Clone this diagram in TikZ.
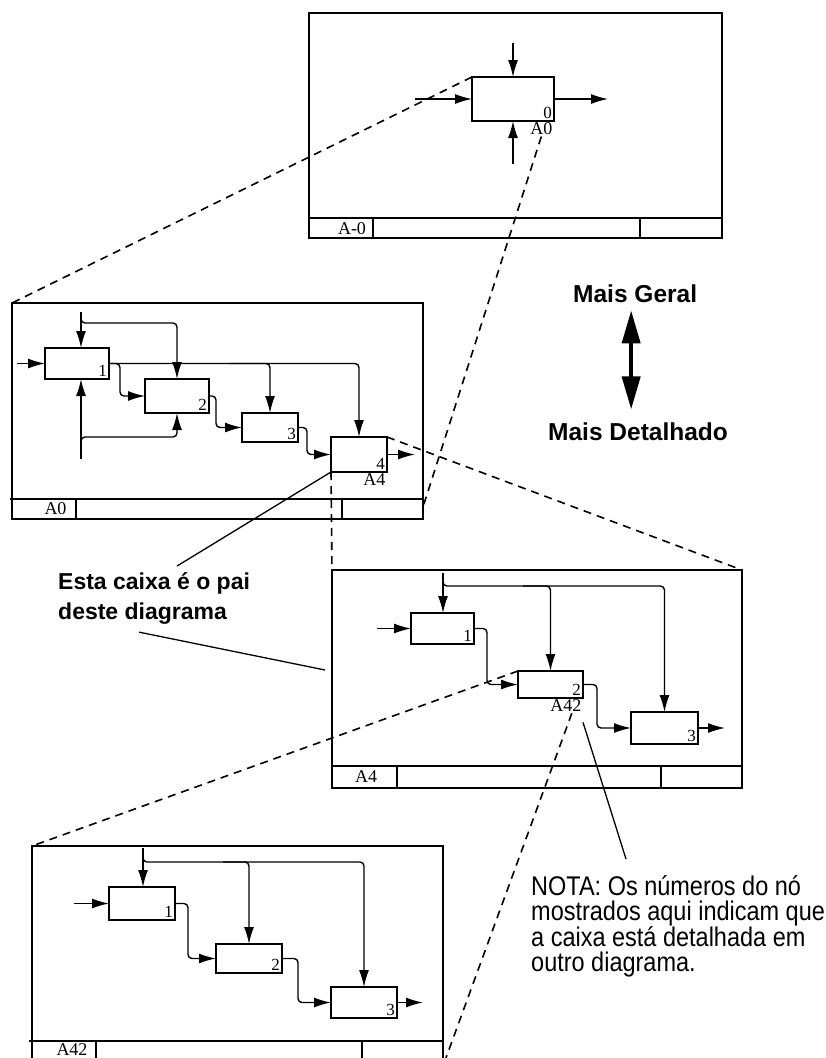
\documentclass[tikz,border=0pt]{standalone}
\usepackage{fontspec}
\setmainfont{Liberation Serif}
\setsansfont{Liberation Sans}
\newfontfamily\notafont[FakeStretch=0.87]{Liberation Sans}
\usetikzlibrary{arrows.meta, calc}

\begin{document}
\begin{tikzpicture}[x=1pt, y=-1pt, >={Latex[length=17pt, width=10pt]},
    quadro/.style={draw, line width=1.5pt, inner sep=0pt, outer sep=0pt},
    barra/.style={line width=1.5pt},
    caixa/.style={draw, line width=1.7pt, inner sep=0pt, outer sep=0pt},
    seta/.style={->, line width=1.4pt, rounded corners=4pt},
    tracejado/.style={line width=1.6pt, dash pattern=on 8pt off 6pt},
    linha/.style={line width=1.3pt},
    dupla/.style={{Triangle[length=33pt, width=18pt]}-{Triangle[length=33pt, width=18pt]}, line width=4pt},
    numero/.style={font=\fontsize{17}{17}\selectfont, inner sep=2pt, anchor=south east},
    rotulo/.style={font=\fontsize{18}{18}\selectfont, inner sep=1.5pt, anchor=north east},
    titulo/.style={font=\fontsize{18}{18}\selectfont, inner sep=0pt}]

\clip (0,0) rectangle (825,1058);

% === Diagrama A-0 ===
\node[quadro, minimum width=413pt, minimum height=225pt] (q0) at (515.5,125.5) {};
\draw[barra] (309,218) -- (722,218);
\draw[barra] (373,218) -- (373,238);
\draw[barra] (640,218) -- (640,238);
\node[titulo] (t0) at (352,229) {A-0};

\node[caixa, minimum width=82pt, minimum height=44pt] (c0) at (513,99) {};
\node[numero] at (c0.south east) {0};
\node[rotulo] (r0) at (c0.south east) {A0};

\draw[seta] (c0.north) ++(0,-34) -- (c0.north);
\draw[seta] (c0.south) ++(0,43) -- (c0.south);
\draw[seta] (c0.west) ++(-57,0) -- (c0.west);
\draw[seta] (c0.east) -- ++(54,0);

% === Diagrama A0 ===
\node[quadro, minimum width=411pt, minimum height=216pt] (q1) at (217.5,411) {};
\draw[barra] (10,499) -- (423,499);
\draw[barra] (76,499) -- (76,519);
\draw[barra] (342,499) -- (342,519);
\node[titulo] (t1) at (55.5,509) {A0};

\node[caixa, minimum width=64pt, minimum height=31pt] (b1) at (77,363.5) {};
\node[caixa, minimum width=64pt, minimum height=34pt] (b2) at (177,396) {};
\node[caixa, minimum width=56pt, minimum height=29pt] (b3) at (270,427.5) {};
\node[caixa, minimum width=56pt, minimum height=35pt] (b4) at (359,454.5) {};
\node[numero] at (b1.south east) {1};
\node[numero] at (b2.south east) {2};
\node[numero] at (b3.south east) {3};
\node[numero] at (b4.south east) {4};
\node[rotulo] (r4) at (b4.south east) {A4};

\coordinate (ctl1) at (81,312);
\coordinate (mec1) at (81,459);

% entrada, controles e mecanismos
\draw[seta] (b1.west) ++(-28,0) -- (b1.west);
\draw[seta] (ctl1) -- (ctl1 |- b1.north);
\draw[seta] (ctl1 |- 0,317) -- (ctl1 |- 0,323) -| (b2.north);
\draw[seta] (mec1) -- (mec1 |- b1.south);
\draw[seta] (mec1 |- 0,447) -- (mec1 |- 0,437) -| (b2.south);

% saidas
\draw[seta] (b1.east) -| (b4.north);
\draw[seta] ($(b1.east)+(120,0)$) -| (b3.north);
\draw[seta] (b1.east) -- ++(11,0) |- (b2.west);
\draw[seta] (b2.east) -- ++(7,0) |- (b3.west);
\draw[seta] (b3.east) -- ++(9,0) |- (b4.west);
\draw[seta] (b4.east) -- ++(28,0);

% === Diagrama A4 ===
\node[quadro, minimum width=410pt, minimum height=218pt] (q2) at (537,679) {};
\draw[barra] (332,766) -- (742,766);
\draw[barra] (397,766) -- (397,788);
\draw[barra] (661,766) -- (661,788);
\node[titulo] (t2) at (366,777) {A4};

\node[caixa, minimum width=63pt, minimum height=31pt] (d1) at (442.5,628.5) {};
\node[caixa, minimum width=65pt, minimum height=27pt] (d2) at (550.5,684.5) {};
\node[caixa, minimum width=67pt, minimum height=32pt] (d3) at (664.5,728) {};
\node[numero] at (d1.south east) {1};
\node[numero] at (d2.south east) {2};
\node[numero] at (d3.south east) {3};
\node[rotulo] (r42) at (d2.south east) {A42};

\coordinate (ctl2) at (443,573);

\draw[seta] (d1.west) ++(-34,0) -- (d1.west);
\draw[seta] (ctl2) -- (ctl2 |- d1.north);
\draw[seta] (ctl2 |- 0,580) -- (ctl2 |- 0,586) -| (d3.north);
\draw[seta] ($(ctl2 |- 0,586)+(80,0)$) -| (d2.north);
\draw[seta] (d1.east) -- ++(13,0) |- (d2.west);
\draw[seta] (d2.east) -- ++(14,0) |- (d3.west);
\draw[seta] (d3.east) -- ++(27,0);

% === Diagrama A42 ===
\node[quadro, minimum width=411pt, minimum height=220pt] (q3) at (237.5,956) {};
\draw[barra] (29,1041) -- (443,1041);
\draw[barra] (96,1041) -- (96,1066);
\draw[barra] (362,1041) -- (362,1066);
\node[titulo] (t3) at (72,1049.5) {A42};

\node[caixa, minimum width=66pt, minimum height=33pt] (e1) at (142,903.5) {};
\node[caixa, minimum width=66pt, minimum height=29pt] (e2) at (249,958.5) {};
\node[caixa, minimum width=66pt, minimum height=31pt] (e3) at (364,1002.5) {};
\node[numero] at (e1.south east) {1};
\node[numero] at (e2.south east) {2};
\node[numero] at (e3.south east) {3};

\coordinate (ctl3) at (143,848);

\draw[seta] (e1.west) ++(-35,0) -- (e1.west);
\draw[seta] (ctl3) -- (ctl3 |- e1.north);
\draw[seta] (ctl3 |- 0,856) -- (ctl3 |- 0,862) -| (e3.north);
\draw[seta] ($(ctl3 |- 0,862)+(80,0)$) -| (e2.north);
\draw[seta] (e1.east) -- ++(13,0) |- (e2.west);
\draw[seta] (e2.east) -- ++(16,0) |- (e3.west);
\draw[seta] (e3.east) -- ++(26,0);

% === Ligacoes tracejadas entre niveis ===
\draw[tracejado] (c0.north west) -- (q1.north west);
\draw[tracejado] (r0.south) -- (q1.east |- 0,507);
\draw[tracejado] (b4.north east) -- (q2.north east);
\draw[tracejado] (b4.south west) -- (q2.north west);
\draw[tracejado] (d2.north west) -- (q3.north west);
\draw[tracejado] ($(r42.south)+(6,0)$) -- (q3.south east);

% === Textos ===
\node[font=\sffamily\bfseries\fontsize{24.5}{26}\selectfont, inner sep=0pt, anchor=base west] (geral) at (573,302) {Mais Geral};
\node[font=\sffamily\bfseries\fontsize{24.5}{26}\selectfont, inner sep=0pt, anchor=base west] (detal) at (548,440) {Mais Detalhado};
\draw[dupla] ($(geral.south)+(-4,8)$) -- ($(geral.south)+(-4,107)$);

\node[font=\sffamily\bfseries\fontsize{23}{30}\selectfont, align=left, inner sep=0pt, anchor=north west] (pai) at (58,572) {Esta caixa é o pai\\deste diagrama};
\draw[linha] (b4.south west) -- ($(pai.north)+(23,-6)$);
\draw[linha] ($(pai.south)+(-15,8)$) -- ($(q2.west)+(-7,-9)$);

\node[font=\notafont\fontsize{27}{25}\selectfont, align=left, inner sep=0pt, anchor=north west] (nota) at (531,875) {NOTA: Os números do nó\\mostrados aqui indicam que\\a caixa está detalhada em\\outro diagrama.};
\draw[linha] ($(r42.south east)+(0,9)$) -- ($(nota.north west)+(95,-16)$);

\end{tikzpicture}
\end{document}
